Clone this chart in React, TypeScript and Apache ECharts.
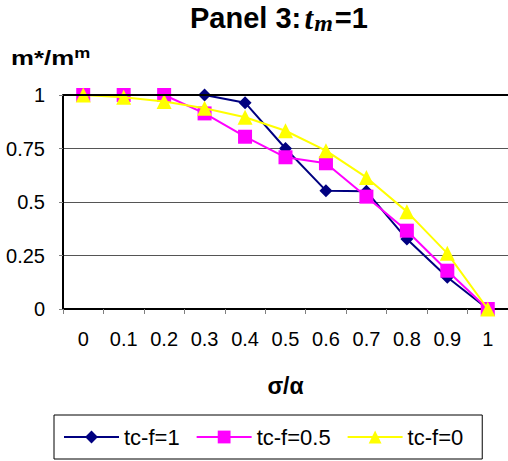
import React, { useEffect, useRef } from "react";
import * as echarts from "echarts";

const categories = ["0", "0.1", "0.2", "0.3", "0.4", "0.5", "0.6", "0.7", "0.8", "0.9", "1"];
const tcf1 = [1, 1, 1, 1, 0.964, 0.75, 0.553, 0.55, 0.327, 0.148, 0];
const tcf05 = [1, 1, 1, 0.914, 0.805, 0.709, 0.681, 0.525, 0.366, 0.179, 0];
const tcf0 = [1, 0.99, 0.97, 0.938, 0.896, 0.833, 0.74, 0.615, 0.455, 0.26, 0];
const seriesNames = ["tc-f=1", "tc-f=0.5", "tc-f=0"];

const FONT = "'Liberation Sans', Arial, sans-serif";
const SERIF = "'Liberation Serif', 'Times New Roman', serif";

export default function App() {
  const ref = useRef<HTMLDivElement>(null);
  useEffect(() => {
    if (!ref.current) return;
    const chart = echarts.init(ref.current, null, { renderer: "svg" });
    chart.setOption({
      animation: false,
      backgroundColor: "#fff",
      title: [
        {
          text: "{a|Panel 3:}{sp| }{t|t}{s|m}{a|=1}",
          left: 190,
          top: 1,
          padding: 0,
          textStyle: {
            rich: {
              a: { fontFamily: FONT, fontWeight: "bold", fontSize: 29, color: "#000", lineHeight: 34 },
              sp: { fontFamily: FONT, fontSize: 12, lineHeight: 34 },
              t: { fontFamily: SERIF, fontStyle: "italic", fontWeight: "bold", fontSize: 31, color: "#000", lineHeight: 34 },
              s: { fontFamily: SERIF, fontStyle: "italic", fontWeight: "bold", fontSize: 24, color: "#000", lineHeight: 22, verticalAlign: "bottom", padding: [0, 2, 0, 1] },
            },
          },
        },
      ],
      graphic: [
        {
          type: "group",
          x: 11,
          y: 0,
          scaleX: 1.29,
          scaleY: 1,
          silent: true,
          children: [
            {
              type: "text",
              x: 0,
              y: 58,
              style: { text: "m*/m", fontFamily: FONT, fontWeight: "bold", fontSize: 20, fill: "#000", verticalAlign: "middle", align: "left" },
            },
            {
              type: "text",
              x: 49,
              y: 53,
              style: { text: "m", fontFamily: FONT, fontWeight: "bold", fontSize: 14, fill: "#000", verticalAlign: "middle", align: "left" },
            },
          ],
        },
      ],
      legend: {
        data: seriesNames,
        left: 54,
        top: 415,
        orient: "horizontal",
        borderColor: "#000",
        borderWidth: 1,
        padding: [11, 19, 11, 9],
        itemGap: 16,
        itemWidth: 55,
        itemHeight: 16,
        textStyle: { fontFamily: FONT, fontSize: 22, color: "#000" },
      },
      grid: { left: 63, top: 95, right: 0, bottom: 152 },
      xAxis: {
        type: "category",
        data: categories,
        boundaryGap: true,
        name: "σ/α",
        nameLocation: "middle",
        nameGap: 65,
        nameTextStyle: { fontFamily: FONT, fontWeight: "bold", fontSize: 23, color: "#000" },
        axisLine: { show: true, lineStyle: { color: "#000", width: 2 } },
        axisTick: { show: true, length: 5, lineStyle: { color: "#808080", width: 1 } },
        axisLabel: { fontFamily: FONT, fontSize: 20, color: "#000", margin: 20 },
        splitLine: { show: false },
      },
      yAxis: {
        type: "value",
        min: 0,
        max: 1,
        interval: 0.25,
        axisLine: { show: true, lineStyle: { color: "#000", width: 2 } },
        axisTick: { show: true, length: 4, lineStyle: { color: "#808080", width: 1 } },
        axisLabel: { fontFamily: FONT, fontSize: 20, color: "#000", margin: 18 },
        splitLine: { show: true, lineStyle: { color: "#555", width: 1 } },
      },
      series: [
        {
          name: seriesNames[0],
          type: "line",
          data: tcf1,
          symbol: "diamond",
          symbolSize: 13,
          color: "#000080",
          lineStyle: { width: 2, color: "#000080" },
          itemStyle: { color: "#000080" },
          markLine: {
            silent: true,
            symbol: "none",
            label: { show: false },
            lineStyle: { color: "#000", width: 2, type: "solid" },
            data: [{ yAxis: 1 }],
          },
          z: 2,
        },
        {
          name: seriesNames[1],
          type: "line",
          data: tcf05,
          symbol: "rect",
          symbolSize: 14,
          color: "#ff00ff",
          lineStyle: { width: 2, color: "#ff00ff" },
          itemStyle: { color: "#ff00ff" },
          z: 3,
        },
        {
          name: seriesNames[2],
          type: "line",
          data: tcf0,
          symbol: "triangle",
          symbolSize: 15,
          color: "#ffff00",
          lineStyle: { width: 2, color: "#ffff00" },
          itemStyle: { color: "#ffff00" },
          z: 4,
        },
      ],
    });
    return () => chart.dispose();
  }, []);
  return (
    <div
      ref={ref}
      style={{ position: "fixed", left: 0, top: 0, width: 508, height: 461, background: "#fff" }}
    />
  );
}
